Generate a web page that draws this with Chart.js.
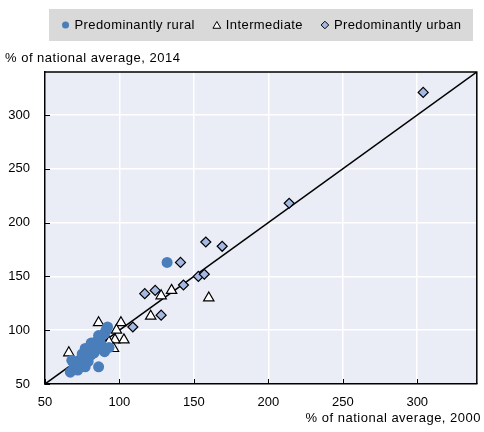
<!DOCTYPE html>
<html><head><meta charset="utf-8">
<script src="https://cdn.jsdelivr.net/npm/chart.js@4.4.0/dist/chart.umd.min.js"></script>
<style>html,body{margin:0;padding:0;background:#fff}#wrap{width:484px;height:432px}</style>
</head><body><div id="wrap"><canvas id="c" width="484" height="432"></canvas></div>
<script>
// ---- data ----
const seriesNames = ['Predominantly rural', 'Intermediate', 'Predominantly urban'];
const ruralX = [67,69,72,70,74,73,76,77,79,78,81,80,77,83,84,86,81,84,87,86,90,91,92,88,90,93,86,132,68,75];
const ruralY = [61,64,63,68,66,72,69,66,71,75,77,80,83,79,84,83,88,89,92,95,97,100,103,86,80,84,66,163,72,78];
const interX = [66,86,101,98,97,103,93,96,84,121,128,135,160];
const interY = [79,107,107,100,91,91,89,83,89,113,132,137,130];
const urbanX = [304,214,158,169,141,153,157,143,117,124,128,109];
const urbanY = [321,218,182,178,163,150,152,142,134,137,114,103];
const diagonalEnds = [50, 340];
const tickValues = [50,100,150,200,250,300];
const axisMin = 50, axisMax = 340;
const xTitle = '% of national average, 2000';
const yTitle = '% of national average, 2014';

// ---- styles ----
const FONT = '"Liberation Sans", Arial, sans-serif';
const ruralColor = '#4a7ebb';
const urbanColor = '#a3b8e2';
const plotBg = '#eaedf6';

const pts = (xs, ys) => xs.map((x, i) => ({x: x, y: ys[i]}));

const decor = {
  id: 'decor',
  beforeDraw(chart) {
    const {ctx, chartArea: a} = chart;
    ctx.save();
    ctx.fillStyle = plotBg;
    ctx.fillRect(a.left, a.top, a.right - a.left, a.bottom - a.top);
    ctx.restore();
  },
  afterDraw(chart) {
    const {ctx, chartArea: a, scales} = chart;
    ctx.save();
    // frame top/right
    ctx.strokeStyle = '#000';
    ctx.lineWidth = 1.5;
    ctx.beginPath();
    ctx.moveTo(a.left, a.top); ctx.lineTo(a.right, a.top); ctx.lineTo(a.right, a.bottom);
    ctx.stroke();
    // inward ticks
    ctx.lineWidth = 1;
    ctx.beginPath();
    tickValues.forEach(v => {
      const px = Math.round(scales.x.getPixelForValue(v)) + 0.5;
      ctx.moveTo(px, a.bottom); ctx.lineTo(px, a.bottom - 5);
      const py = Math.round(scales.y.getPixelForValue(v)) + 0.5;
      ctx.moveTo(a.left, py); ctx.lineTo(a.left + 5, py);
    });
    ctx.stroke();
    // axis titles
    ctx.fillStyle = '#000';
    ctx.font = '13px ' + FONT;
    ctx.letterSpacing = '0.5px';
    ctx.textBaseline = 'middle';
    ctx.textAlign = 'left';
    ctx.fillText(yTitle, 5, 58);
    ctx.textAlign = 'right';
    ctx.fillText(xTitle, 481, 418);
    // legend
    ctx.fillStyle = '#d9d9d9';
    ctx.fillRect(49, 9, 424, 32);
    const styles = [
      {ps: 'circle', r: 3.5, bg: ruralColor, bc: ruralColor, bw: 0},
      {ps: 'triangle', r: 4.5, bg: '#fff', bc: '#000', bw: 1},
      {ps: 'rectRot', r: 3.8, bg: urbanColor, bc: '#000', bw: 1}
    ];
    ctx.font = '13px ' + FONT;
    ctx.letterSpacing = '0.4px';
    const widths = seriesNames.map(n => ctx.measureText(n).width);
    const mk = 10, gap = 4, sep = 17;
    const total = widths.reduce((s, w) => s + mk + gap + w, 0) + sep * (seriesNames.length - 1);
    let x = 261 - total / 2;
    const cy = 25;
    seriesNames.forEach((n, i) => {
      const s = styles[i];
      ctx.fillStyle = s.bg; ctx.strokeStyle = s.bc; ctx.lineWidth = s.bw;
      Chart.helpers.drawPoint(ctx, {pointStyle: s.ps, radius: s.r, borderWidth: s.bw}, x + mk / 2, cy + (s.ps === 'triangle' ? 1 : 0));
      ctx.fillStyle = '#000';
      ctx.textAlign = 'left';
      ctx.fillText(n, x + mk + gap, cy);
      x += mk + gap + widths[i] + sep;
    });
    ctx.restore();
  }
};

const axisCommon = (isX) => ({
  type: 'linear',
  min: axisMin, max: axisMax,
  afterBuildTicks(s) { s.ticks = tickValues.map(v => ({value: v})); },
  afterFit(s) { if (isX) s.height = 48; else s.width = 45; },
  grid: {color: '#ffffff', lineWidth: 1.5, drawTicks: false},
  border: {display: true, color: '#000', width: 1.5},
  ticks: {padding: isX ? 11 : 15, color: '#000', font: {family: FONT, size: 13}}
});

new Chart(document.getElementById('c'), {
  type: 'scatter',
  data: {
    datasets: [
      {label: seriesNames[0], data: pts(ruralX, ruralY), pointStyle: 'circle', radius: 5.5,
       backgroundColor: ruralColor, borderColor: ruralColor, borderWidth: 0, order: 1},
      {label: seriesNames[2], data: pts(urbanX, urbanY), pointStyle: 'rectRot', radius: 5,
       backgroundColor: urbanColor, borderColor: '#000', borderWidth: 1.2, order: 2},
      {label: seriesNames[1], data: pts(interX, interY), pointStyle: 'triangle', radius: 6,
       backgroundColor: '#fff', borderColor: '#000', borderWidth: 1.2, order: 3},
      {type: 'line', label: 'diagonal', data: diagonalEnds.map(v => ({x: v, y: v})),
       borderColor: '#000', borderWidth: 1.5, pointRadius: 0, fill: false, order: 4}
    ]
  },
  options: {
    responsive: false, animation: false,
    layout: {padding: {top: 72, right: 5, left: 0, bottom: 0}},
    plugins: {legend: {display: false}, tooltip: {enabled: false}},
    scales: {x: axisCommon(true), y: axisCommon(false)}
  },
  plugins: [decor]
});
</script>
</body></html>
